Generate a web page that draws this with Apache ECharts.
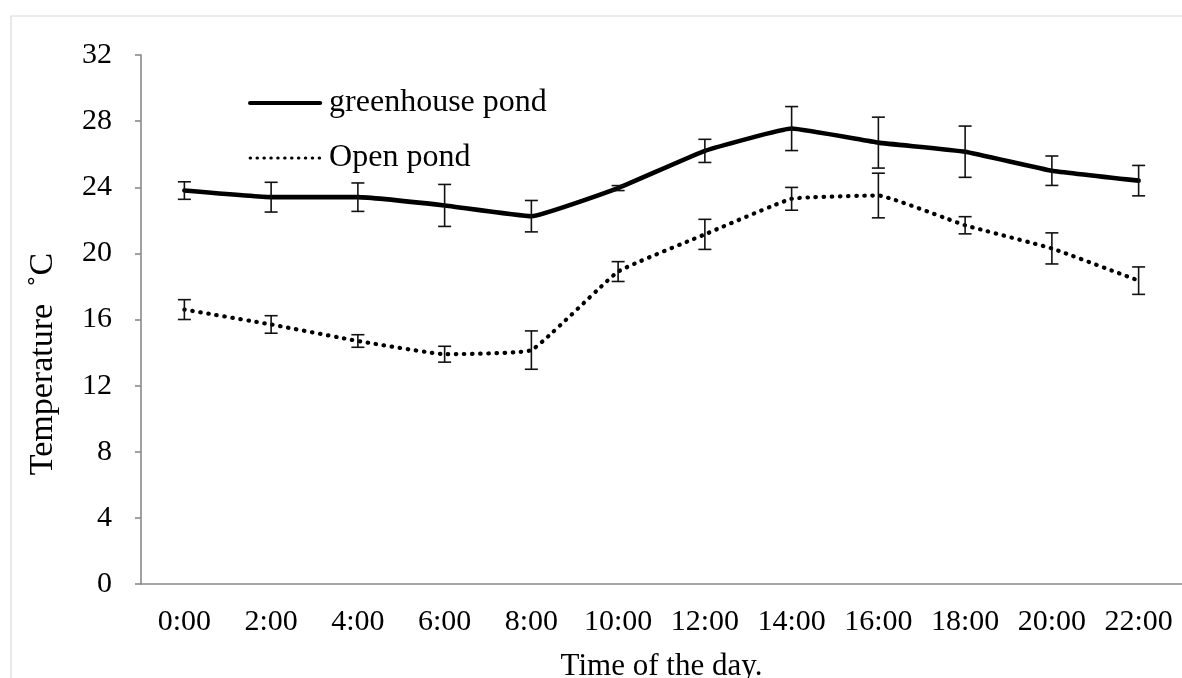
<!DOCTYPE html>
<html>
<head>
<meta charset="utf-8">
<title>Pond temperature over the day</title>
<script src="https://cdn.jsdelivr.net/npm/echarts@6/dist/echarts.min.js"></script>
<style>
  html, body { margin: 0; padding: 0; background: #fff; }
  #chart { width: 1182px; height: 678px; }
</style>
</head>
<body>
<div id="chart"></div>
<script>
// Hours of the day (category axis)
const hours = ['0:00', '2:00', '4:00', '6:00', '8:00', '10:00', '12:00', '14:00', '16:00', '18:00', '20:00', '22:00'];

// Mean water temperature (°C) and error-bar half widths
const greenhouseMean = [23.8, 23.4, 23.4, 22.9, 22.25, 23.95, 26.2, 27.55, 26.7, 26.15, 25.0, 24.4];
const greenhouseErr  = [0.53, 0.9, 0.86, 1.27, 0.95, 0.15, 0.7, 1.33, 1.54, 1.55, 0.89, 0.92];
const openMean = [16.6, 15.7, 14.7, 13.9, 14.15, 18.9, 21.15, 23.3, 23.5, 21.7, 20.3, 18.35];
const openErr  = [0.6, 0.53, 0.38, 0.48, 1.16, 0.6, 0.91, 0.69, 1.35, 0.52, 0.94, 0.83];

// Y axis ticks
const yMin = 0, yMax = 32, yStep = 4;

const FONT = '"Liberation Serif", "Times New Roman", serif';

function errorRows(mean, err) {
  return mean.map((m, i) => [i, m - err[i], m + err[i]]);
}

function renderErrorBar(params, api) {
  const i = api.value(0);
  const lo = api.coord([i, api.value(1)]);
  const hi = api.coord([i, api.value(2)]);
  const hw = 6.5;
  const style = { stroke: '#111', lineWidth: 1.6 };
  return {
    type: 'group',
    children: [
      { type: 'line', shape: { x1: hi[0], y1: hi[1], x2: lo[0], y2: lo[1] }, style },
      { type: 'line', shape: { x1: hi[0] - hw, y1: hi[1], x2: hi[0] + hw, y2: hi[1] }, style },
      { type: 'line', shape: { x1: lo[0] - hw, y1: lo[1], x2: lo[0] + hw, y2: lo[1] }, style }
    ]
  };
}

const chart = echarts.init(document.getElementById('chart'), null, { renderer: 'canvas' });

chart.setOption({
  animation: false,
  backgroundColor: '#fff',
  textStyle: { fontFamily: FONT },
  grid: { left: 141, right: 0, top: 55, bottom: 94, containLabel: false, outerBoundsMode: 'none' },
  legend: {
    orient: 'vertical',
    left: 243,
    top: 82,
    itemWidth: 70,
    itemHeight: 14,
    itemGap: 23,
    padding: 5,
    data: [
      { name: 'greenhouse pond', lineStyle: { width: 4.2 } },
      { name: 'Open pond', lineStyle: { width: 3, type: [0.5, 6.4], cap: 'round' } }
    ],
    itemStyle: { opacity: 0 },
    textStyle: { fontFamily: FONT, fontSize: 32, color: '#000', lineHeight: 32, padding: [0, 0, 0, 4] }
  },
  xAxis: {
    type: 'category',
    data: hours,
    boundaryGap: true,
    axisLine: { lineStyle: { color: '#8a8a8a', width: 1.6 } },
    axisTick: { show: false },
    axisLabel: { fontFamily: FONT, fontSize: 30, color: '#000', margin: 23, interval: 0 },
    name: 'Time of the day.',
    nameLocation: 'middle',
    nameGap: 67,
    nameTextStyle: { fontFamily: FONT, fontSize: 31, color: '#000' }
  },
  yAxis: {
    type: 'value',
    min: yMin,
    max: yMax,
    interval: yStep,
    axisLine: { show: true, lineStyle: { color: '#8a8a8a', width: 1.6 } },
    axisTick: { show: true, inside: false, length: 6, lineStyle: { color: '#8a8a8a', width: 1.6 } },
    splitLine: { show: false },
    axisLabel: { fontFamily: FONT, fontSize: 30, color: '#000', margin: 29 }
  },
  graphic: [
    {
      type: 'rect',
      left: 8.5, top: 13.5,
      shape: { x: 0, y: 0, width: 1300, height: 800 },
      style: { fill: 'none', stroke: '#d9d9d9', lineWidth: 1.2 },
      silent: true,
      z: -10
    },
    {
      type: 'text',
      x: 43, y: 364,
      rotation: Math.PI / 2,
      style: {
        text: 'Temperature  \u02daC',
        font: '34px ' + FONT,
        fill: '#000',
        align: 'center',
        verticalAlign: 'middle'
      }
    }
  ],
  series: [
    {
      name: 'greenhouse pond',
      type: 'line',
      data: greenhouseMean,
      symbol: 'none',
      smooth: 0.1,
      lineStyle: { color: '#000', width: 4.6, cap: 'round', join: 'round' },
      itemStyle: { color: '#000' },
      z: 3
    },
    {
      name: 'Open pond',
      type: 'line',
      data: openMean,
      symbol: 'none',
      smooth: 0.1,
      lineStyle: { color: '#000', width: 4.2, type: [0.5, 7.6], cap: 'round' },
      itemStyle: { color: '#000' },
      z: 3
    },
    {
      name: 'greenhouse error',
      type: 'custom',
      data: errorRows(greenhouseMean, greenhouseErr),
      renderItem: renderErrorBar,
      encode: { x: 0, y: [1, 2] },
      z: 4,
      silent: true
    },
    {
      name: 'open error',
      type: 'custom',
      data: errorRows(openMean, openErr),
      renderItem: renderErrorBar,
      encode: { x: 0, y: [1, 2] },
      z: 4,
      silent: true
    }
  ]
});
</script>
</body>
</html>
